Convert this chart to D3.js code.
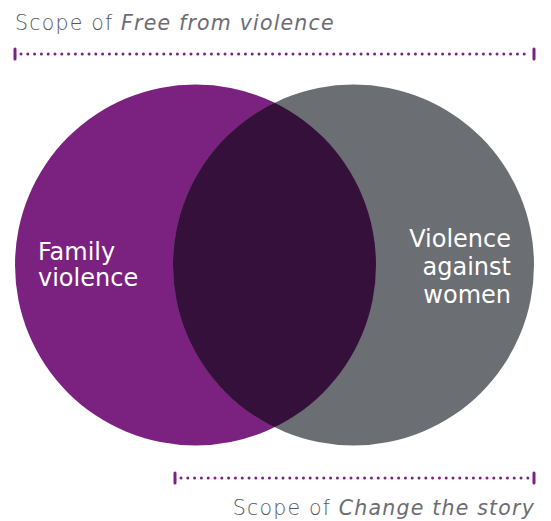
<!DOCTYPE html>
<html lang="en">
<head>
<meta charset="utf-8">
<script src="https://d3js.org/d3.v7.min.js"></script>
<style>
    body { margin: 0; background: #fff; }
    svg { display: block; font-family: "DejaVu Sans", sans-serif; }
</style>
</head>
<body>
<svg id="chart" width="551" height="521"></svg>
<script>
    // data
    var setNames = ["Family violence", "Violence against women"];
    var setLabels = [["Family", "violence"], ["Violence", "against", "women"]];
    var setColors = ["#7b2180", "#6b6e72"];
    var overlapColor = "#34103a";
    // scopes: which part of the diagram each strategy covers
    var scopeTitles = ["Free from violence", "Change the story"];
    var scopeFrom = [0, 0.3083];
    var scopeTo = [1, 1];

    var svg = d3.select("#chart");

    // horizontal layout of the diagram
    var x = d3.scaleLinear().domain([0, 1]).range([15, 534]);
    var r = 180.5, cy = 265;
    var cx = [x(0) + r, x(1) - r];

    var defs = svg.append("defs");
    defs.append("clipPath").attr("id", "clipLeft")
        .append("circle").attr("cx", cx[0]).attr("cy", cy).attr("r", r);

    svg.selectAll(".set")
        .data(setNames)
        .enter().append("circle")
        .attr("class", "set")
        .attr("cx", (d, i) => cx[i])
        .attr("cy", cy)
        .attr("r", r)
        .style("fill", (d, i) => setColors[i]);

    // overlap
    svg.append("circle")
        .attr("cx", cx[1]).attr("cy", cy).attr("r", r)
        .attr("clip-path", "url(#clipLeft)")
        .style("fill", overlapColor);

    // set labels
    var labelX = [38, 511];
    var labelY = [260, 247];
    var lineH = [26, 28];
    setLabels.forEach(function (lines, i) {
        var t = svg.append("text")
            .attr("x", labelX[i])
            .attr("y", labelY[i])
            .attr("text-anchor", i == 0 ? "start" : "end")
            .style("fill", "#fff")
            .style("font-size", "24px");
        lines.forEach(function (l, j) {
            t.append("tspan").attr("x", labelX[i]).attr("y", labelY[i] + j * lineH[i]).text(l);
        });
    });

    // scope lines
    var lineY = [54, 478];
    var textY = [30, 515];
    scopeTitles.forEach(function (title, i) {
        var x0 = x(scopeFrom[i]);
        var x1 = x(scopeTo[i]);
        var g = svg.append("g");
        g.append("line")
            .attr("x1", x0 + 6).attr("x2", x1 - 4)
            .attr("y1", lineY[i]).attr("y2", lineY[i])
            .style("stroke", "#7b2180")
            .style("stroke-width", 3)
            .style("stroke-linecap", "round")
            .style("stroke-dasharray", "0 6.8");
        [x0, x1].forEach(function (xx) {
            g.append("rect")
                .attr("x", xx - 1.5).attr("y", lineY[i] - 6.5)
                .attr("width", 3).attr("height", 13)
                .attr("rx", 1.5)
                .style("fill", "#7b2180");
        });
        var t = svg.append("text")
            .attr("x", i == 0 ? 15 : 535)
            .attr("y", textY[i])
            .attr("text-anchor", i == 0 ? "start" : "end")
            .style("fill", "#55555c")
            .style("font-size", "20.5px")
            .style("font-weight", 200)
            .style("letter-spacing", "1.2px");
        t.append("tspan").text("Scope of ");
        t.append("tspan").style("font-style", "italic").style("fill", "#6c6c72").text(title);
    });
</script>
</body>
</html>
